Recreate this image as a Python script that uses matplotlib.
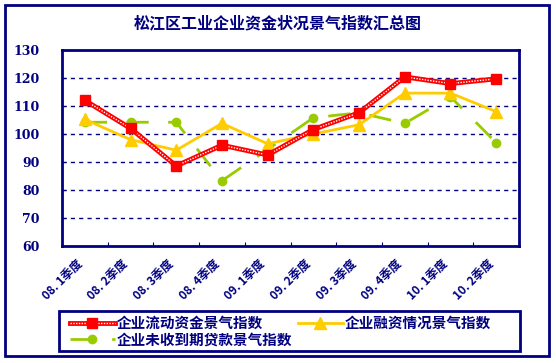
import matplotlib
matplotlib.use("Agg")
import matplotlib.pyplot as plt
from matplotlib.legend_handler import HandlerTuple
from matplotlib.patches import Rectangle

plt.rcParams['font.family'] = ['Noto Sans CJK SC', 'DejaVu Sans']

navy = '#000080'

quarters = ['08. 1季度', '08. 2季度', '08. 3季度', '08. 4季度', '09. 1季度',
            '09. 2季度', '09. 3季度', '09. 4季度', '10. 1季度', '10. 2季度']
liquidity = [112, 102, 88.6, 96, 92.5, 101.6, 107.6, 120.4, 118, 119.7]
financing = [105.2, 98, 94.2, 103.8, 96.5, 100, 103.3, 114.6, 114.6, 108]
receivable = [104.2, 104.2, 104.2, 83.3, 94.5, 105.8, 107.6, 103.8, 113.3, 96.9]

names = ['企业流动资金景气指数', '企业融资情况景气指数', '企业未收到期贷款景气指数']

fig = plt.figure(figsize=(5.56, 3.63), dpi=100)
fig.patches.append(Rectangle((0.009, 0.02), 0.978, 0.965, transform=fig.transFigure,
                             fill=False, edgecolor=navy, lw=2))
# legend frame
fig.patches.append(Rectangle((0.106, 0.033), 0.83, 0.11, transform=fig.transFigure,
                             fill=False, edgecolor=navy, lw=2))
ax = fig.add_axes([0.1115, 0.3223, 0.822, 0.54])

x = list(range(len(quarters)))

# green dashed with dots
g, = ax.plot(x, receivable, color='#99CC00', lw=2, dashes=(8, 7),
             marker='o', ms=6, markerfacecolor='#99CC00', markeredgecolor='#99CC00', zorder=3)
# yellow with triangles
y_, = ax.plot(x, financing, color='#FFCC00', lw=2, marker='^', ms=8,
              markerfacecolor='#FFCC00', markeredgecolor='#FFCC00', zorder=4)
# red "hatched" line with squares
r1, = ax.plot(x, liquidity, color='#FF0000', lw=3.5, zorder=5)
r2, = ax.plot(x, liquidity, color='white', lw=1, dashes=(1, 1), zorder=6)
r3, = ax.plot(x, liquidity, color='#FF0000', lw=0, marker='s', ms=7, zorder=7)

ax.set_xlim(-0.5, len(quarters) - 0.5)
ax.set_ylim(60, 130)
ax.set_yticks(range(60, 131, 10))
ax.set_yticklabels([str(v) for v in range(60, 131, 10)], fontsize=9,
                   fontweight='bold', color=navy, family='DejaVu Serif')
ax.set_xticks([i - 0.5 for i in range(1, len(quarters))], minor=False)
ax.set_xticklabels([])
ax.set_xticks(x, minor=True)
ax.set_xticklabels(quarters, minor=True, rotation=45, ha='right', va='top',
                   fontsize=8.5, fontweight='bold', color=navy)
ax.tick_params(axis='x', which='minor', length=0, pad=8)
ax.tick_params(axis='x', which='major', direction='in', length=3, color=navy)
ax.tick_params(axis='y', direction='in', length=3, color=navy, pad=16)
for v in range(70, 130, 10):
    ax.axhline(v, color=navy, lw=1, ls=(0, (3, 3)), zorder=1)
for s in ax.spines.values():
    s.set_color(navy)
    s.set_linewidth(2)

fig.text(0.5, 0.935, '松江区工业企业资金状况景气指数汇总图', ha='center', va='center',
         fontsize=11.5, fontweight='bold', color=navy)

leg = fig.legend([(r1, r2, r3), g, y_], [names[0], names[2], names[1]],
                 handler_map={tuple: HandlerTuple(ndivide=1, pad=0)},
                 loc='center left', bbox_to_anchor=(0.112, 0.088),
                 ncol=2, frameon=False,
                 borderpad=0.0, handlelength=3.1, handletextpad=0.1,
                 labelspacing=0.05, columnspacing=0.4,
                 prop={'size': 10.5, 'weight': 'bold'})
for t in leg.get_texts():
    t.set_color(navy)

fig.savefig('out.png', dpi=100)
